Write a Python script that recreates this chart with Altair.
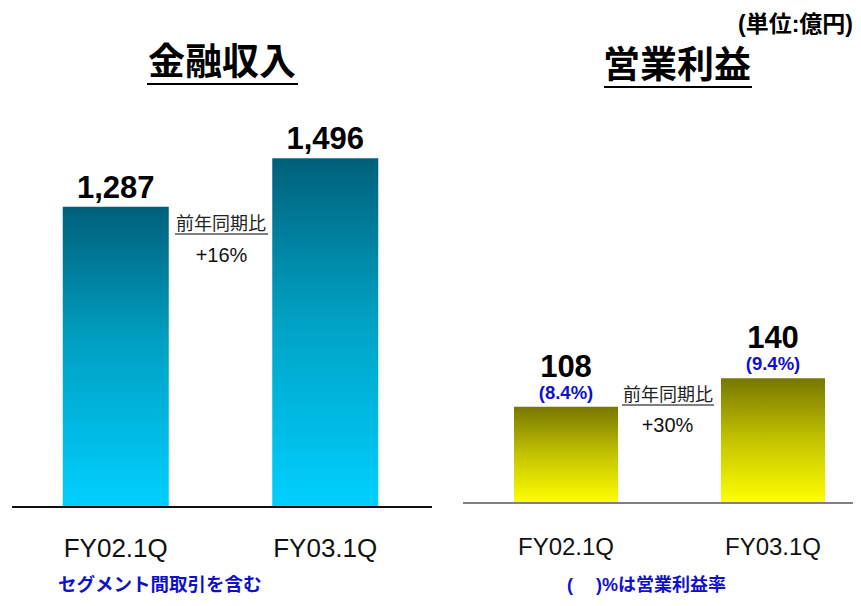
import altair as alt
import pandas as pd

# ---- data ----
periods = ["FY02.1Q", "FY03.1Q"]
finance_revenue = [1287, 1496]
revenue_labels = ["1,287", "1,496"]
operating_profit = [108, 140]
profit_labels = ["108", "140"]
margin_labels = ["(8.4%)", "(9.4%)"]
titles = ["金融収入", "営業利益"]
yoy_header = "前年同期比"
yoy_values = ["+16%", "+30%"]
unit_note = "(単位:億円)"
notes = ["セグメント間取引を含む", "(\u3000\u00a0)%は営業利益率"]

LATIN = "Liberation Sans"
CJK = "Noto Sans CJK JP"
BLUE = "#1010CC"

df_l = pd.DataFrame({"period": periods, "value": finance_revenue, "label": revenue_labels})
df_r = pd.DataFrame({"period": periods, "value": operating_profit, "label": profit_labels,
                     "pct": margin_labels})
zero = pd.DataFrame({"z": [0]})

grad_l = alt.Gradient(gradient="linear", x1=0, x2=0, y1=0, y2=1, stops=[
    alt.GradientStop(color="#00607A", offset=0),
    alt.GradientStop(color="#00A0C2", offset=0.45),
    alt.GradientStop(color="#00D0FF", offset=1)])
grad_r = alt.Gradient(gradient="linear", x1=0, x2=0, y1=0, y2=1, stops=[
    alt.GradientStop(color="#777700", offset=0),
    alt.GradientStop(color="#C4C400", offset=0.5),
    alt.GradientStop(color="#FFFF00", offset=1)])

# ---- left panel: 金融収入 ----
xs_l = alt.Scale(range=[3, 422], paddingInner=0, paddingOuter=0)
ys_l = alt.Scale(domain=[0, 1500], range=[499, 149.2], nice=False, zero=True)
base_l = alt.Chart(df_l).encode(x=alt.X("period:N", scale=xs_l, axis=None, sort=periods))
bars_l = base_l.mark_bar(size=106, color=grad_l).encode(
    y=alt.Y("value:Q", scale=ys_l, axis=None))
vals_l = base_l.mark_text(dy=-9, fontSize=31, fontWeight="bold", font=LATIN,
                          baseline="alphabetic", color="#000000").encode(
    y=alt.Y("value:Q", scale=ys_l, axis=None), text="label:N")
xlab_l = base_l.mark_text(fontSize=26, font=LATIN, baseline="alphabetic", color="#111111").encode(
    y=alt.value(549), text="period:N")
rule_l = alt.Chart(zero).mark_rule(color="#111111", strokeWidth=2).encode(
    y=alt.Y("z:Q", scale=ys_l, axis=None), x=alt.value(4), x2=alt.value(424))
left = alt.layer(bars_l, vals_l, xlab_l, rule_l)

# ---- right panel: 営業利益 ----
xs_r = alt.Scale(range=[454.5, 868.5], paddingInner=0, paddingOuter=0)
ys_r = alt.Scale(domain=[0, 150], range=[495, 361.35], nice=False, zero=True)
base_r = alt.Chart(df_r).encode(x=alt.X("period:N", scale=xs_r, axis=None, sort=periods))
bars_r = base_r.mark_bar(size=104, color=grad_r).encode(
    y=alt.Y("value:Q", scale=ys_r, axis=None))
vals_r = base_r.mark_text(dy=-30, fontSize=31, fontWeight="bold", font=LATIN,
                          baseline="alphabetic", color="#000000").encode(
    y=alt.Y("value:Q", scale=ys_r, axis=None), text="label:N")
pcts_r = base_r.mark_text(dy=-8, fontSize=18.5, fontWeight="bold", font=LATIN,
                          baseline="alphabetic", color=BLUE).encode(
    y=alt.Y("value:Q", scale=ys_r, axis=None), text="pct:N")
xlab_r = base_r.mark_text(fontSize=24, font=LATIN, baseline="alphabetic", color="#111111").encode(
    y=alt.value(547), text="period:N")
rule_r = alt.Chart(zero).mark_rule(color="#808080", strokeWidth=2).encode(
    y=alt.Y("z:Q", scale=ys_r, axis=None), x=alt.value(455), x2=alt.value(853))
right = alt.layer(bars_r, vals_r, pcts_r, xlab_r, rule_r)

# ---- annotations ----
def txt(s, x, y, size, font=CJK, weight="normal", color="#000000", align="center"):
    return alt.Chart(pd.DataFrame({"t": [s]})).mark_text(
        fontSize=size, font=font, fontWeight=weight, color=color, align=align,
        baseline="alphabetic").encode(text="t:N", x=alt.value(x), y=alt.value(y))

def uline(x1, x2, y, w=2):
    return alt.Chart(zero).mark_rule(color="#000000", strokeWidth=w).encode(
        x=alt.value(x1), x2=alt.value(x2), y=alt.value(y))

ann = alt.layer(
    txt(unit_note, 845, 24, 23, font=f"{LATIN}, {CJK}", weight="bold", align="right"),
    txt(titles[0], 214, 67, 37, weight="bold"),
    uline(139, 290, 76),
    txt(titles[1], 669, 70, 37, weight="bold"),
    uline(596, 744, 79),
    txt(yoy_header, 213, 222, 18, color="#222222"),
    uline(167, 260, 226, 1.2),
    txt(yoy_values[0], 213.5, 254, 20, font=LATIN, color="#111111"),
    txt(yoy_header, 660, 393, 18, color="#222222"),
    uline(614, 706, 397, 1.2),
    txt(yoy_values[1], 659.5, 424, 20, font=LATIN, color="#111111"),
    txt(notes[0], 50, 583, 18.5, weight="bold", color=BLUE, align="left"),
    txt(notes[1], 559, 583, 18, font=f"{LATIN}, {CJK}", weight="bold", color=BLUE, align="left"),
)

chart = alt.layer(left, right, ann).resolve_scale(x="independent", y="independent").properties(
    width=845, height=588, padding=0, autosize=alt.AutoSizeParams(type="none")
).configure_view(stroke=None)

chart.save("out.html", embed_options={"renderer": "svg", "actions": False})
